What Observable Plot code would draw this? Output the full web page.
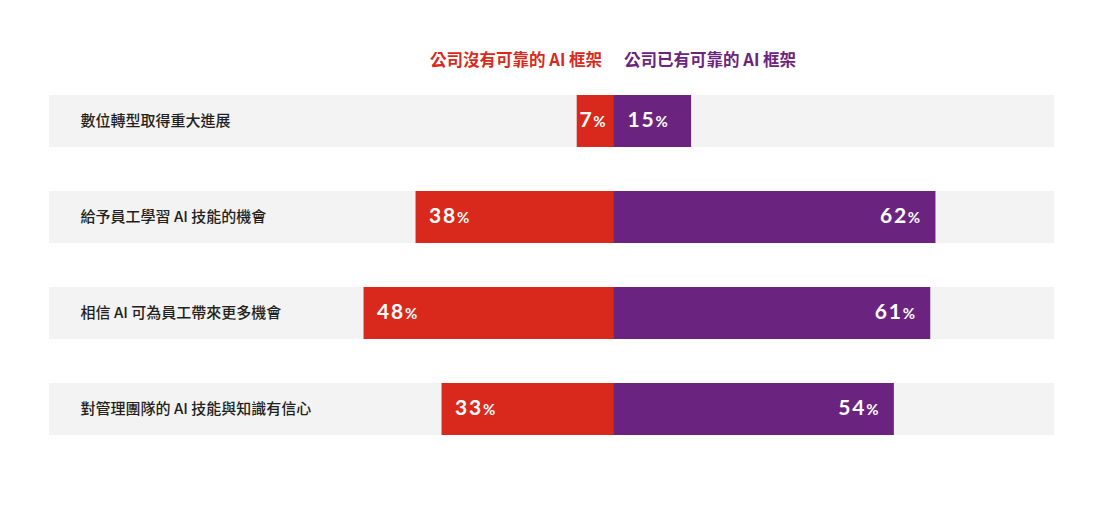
<!DOCTYPE html>
<html>
<head>
<meta charset="utf-8">
<script src="https://cdn.jsdelivr.net/npm/d3@7"></script>
<script src="https://cdn.jsdelivr.net/npm/@observablehq/plot@0.6"></script>
<style>
  html, body { margin: 0; padding: 0; background: #fff; }
  #wrap { position: relative; width: 1100px; height: 510px; }
  #legend { position: absolute; top: 48px; white-space: nowrap; font-family: "Noto Sans CJK TC", sans-serif; font-weight: 700; font-size: 16.5px; line-height: 22px; transform: translateX(-50%); }
  #legend span { display: inline-block; }
  #chart { position: absolute; top: 80px; left: 0; }
</style>
</head>
<body>
<div id="wrap">
  <div id="legend"></div>
  <div id="chart"></div>
</div>
<script>
const categories = [
  "數位轉型取得重大進展",
  "給予員工學習 AI 技能的機會",
  "相信 AI 可為員工帶來更多機會",
  "對管理團隊的 AI 技能與知識有信心"
];
const noFramework = [7, 38, 48, 33];   // 公司沒有可靠的 AI 框架
const hasFramework = [15, 62, 61, 54]; // 公司已有可靠的 AI 框架
const seriesNames = ["公司沒有可靠的 AI 框架", "公司已有可靠的 AI 框架"];
const colors = ["#d9291c", "#6b2380"];
const xDomain = [-108.5, 84.8];

const rows = categories.map((c, i) => ({cat: c, no: noFramework[i], yes: hasFramework[i]}));
const small = 20;

const plot = Plot.plot({
  width: 1100,
  height: 430,
  marginTop: 13,
  marginBottom: 73,
  marginLeft: 49,
  marginRight: 46,
  x: {domain: xDomain, axis: null},
  y: {domain: categories, axis: null, paddingInner: 0.4536, paddingOuter: 0},
  marks: [
    Plot.barX(rows, {y: "cat", x1: () => xDomain[0], x2: () => xDomain[1], fill: "#f3f3f3", inset: 0}),
    Plot.barX(rows, {y: "cat", x1: d => -d.no, x2: 0, fill: colors[0], inset: 0}),
    Plot.barX(rows, {y: "cat", x1: 0, x2: d => d.yes, fill: colors[1], inset: 0}),
    Plot.text(rows, {y: "cat", text: "cat", frameAnchor: "left", dx: 31, textAnchor: "start",
      fill: "#231f20", fontSize: 15, fontWeight: 500, fontFamily: "Noto Sans CJK TC"}),
    // red labels
    Plot.text(rows.filter(d => d.no >= small), {y: "cat", x: d => -d.no, text: d => d.no + "%", textAnchor: "start", dx: 13, dy: 2,
      fill: "#fff", ariaDescription: "values"}),
    Plot.text(rows.filter(d => d.no < small), {y: "cat", x: d => -d.no / 2, text: d => d.no + "%", textAnchor: "middle", dx: -2, dy: 2,
      fill: "#fff", ariaDescription: "values"}),
    // purple labels
    Plot.text(rows.filter(d => d.yes >= small), {y: "cat", x: d => d.yes, text: d => d.yes + "%", textAnchor: "end", dx: -14, dy: 2,
      fill: "#fff", ariaDescription: "values"}),
    Plot.text(rows.filter(d => d.yes < small), {y: "cat", x: d => d.yes / 2, text: d => d.yes + "%", textAnchor: "middle", dx: -4, dy: 2,
      fill: "#fff", ariaDescription: "values"})
  ]
});

// Style value labels: larger number, smaller percent sign
d3.select(plot).selectAll('g[aria-description="values"] text').each(function() {
  const t = d3.select(this);
  const s = t.text();
  const num = s.replace("%", "");
  t.text(null)
    .attr("font-family", "Lato, sans-serif")
    .attr("font-weight", 700)
    .attr("letter-spacing", "1.8px");
  t.append("tspan").attr("font-size", 21).text(num);
  t.append("tspan").attr("font-size", 15).attr("dx", 0).text("%");
});

document.getElementById("chart").appendChild(plot);

const legend = d3.select("#legend");
legend.style("left", plot.scale("x").apply(0) + "px");
seriesNames.forEach((n, i) => {
  legend.append("span").style("color", colors[i]).style("margin-left", i ? "22px" : "0").text(n);
});
</script>
</body>
</html>
